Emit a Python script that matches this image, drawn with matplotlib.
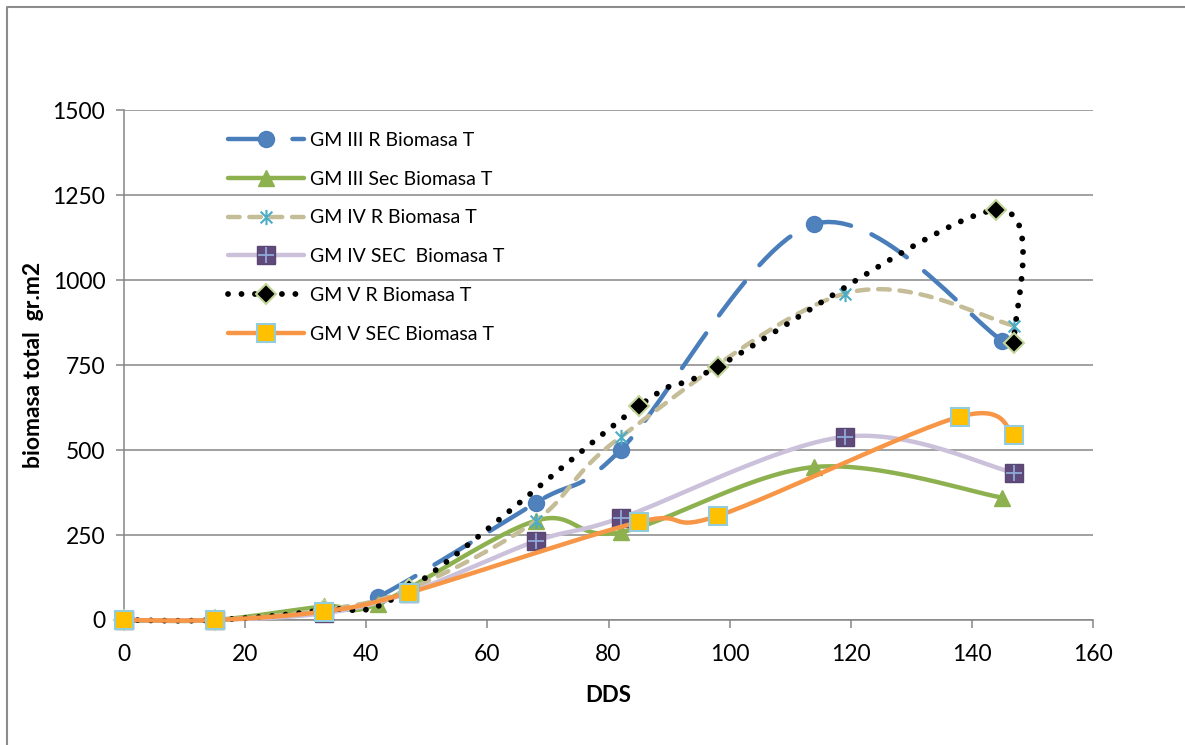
import matplotlib
matplotlib.use("Agg")
import matplotlib.pyplot as plt
import numpy as np
from matplotlib.lines import Line2D
from matplotlib.path import Path

plt.rcParams["font.family"] = ["Lato", "DejaVu Sans"]

# días después de siembra (DDS) y biomasa total (gr.m2) por grupo de madurez
dds_gm3 = [0, 15, 33, 42, 68, 82, 114, 145]
gm3_r = [0, 0, 25, 68, 345, 500, 1165, 822]
gm3_sec = [0, 0, 40, 48, 292, 258, 450, 360]

dds_gm4 = [0, 15, 33, 47, 68, 82, 119, 147]
gm4_r = [0, 0, 30, 90, 292, 538, 960, 866]
gm4_sec = [0, 0, 20, 80, 232, 300, 539, 433]

dds_gm5_r = [0, 15, 33, 47, 85, 98, 144, 147]
gm5_r = [0, 0, 30, 90, 629, 745, 1206, 814]
dds_gm5_sec = [0, 15, 33, 47, 85, 98, 138, 147]
gm5_sec = [0, 0, 25, 80, 288, 306, 598, 543]

labels = ["GM III R Biomasa T", "GM III Sec Biomasa T", "GM IV R Biomasa T",
          "GM IV SEC  Biomasa T", "GM V R Biomasa T", "GM V SEC Biomasa T"]

XMAX, YMAX = 160, 1500
AX_W, AX_H = 969.0, 510.0   # tamaño del área de trazado en píxeles


def smooth(xs, ys, n=30):
    """Curva suavizada tipo Excel (Bezier Catmull-Rom en coordenadas de pantalla)."""
    p = np.column_stack([np.asarray(xs, float) / XMAX * AX_W,
                         np.asarray(ys, float) / YMAX * AX_H])
    out = [p[0]]
    m = len(p)
    t = np.linspace(0, 1, n)[1:, None]
    for i in range(m - 1):
        p0 = p[max(i - 1, 0)]
        p1, p2 = p[i], p[i + 1]
        p3 = p[min(i + 2, m - 1)]
        c1 = p1 + (p2 - p0) / 6
        c2 = p2 - (p3 - p1) / 6
        seg = ((1 - t) ** 3 * p1 + 3 * (1 - t) ** 2 * t * c1
               + 3 * (1 - t) * t ** 2 * c2 + t ** 3 * p2)
        out.extend(seg)
    out = np.array(out)
    return out[:, 0] / AX_W * XMAX, out[:, 1] / AX_H * YMAX


# marcador asterisco (x con barra vertical)
asterisk = Path([(-1, -1), (1, 1), (-1, 1), (1, -1), (0, -1.3), (0, 1.3)],
                [Path.MOVETO, Path.LINETO, Path.MOVETO, Path.LINETO, Path.MOVETO, Path.LINETO])

fig = plt.figure(figsize=(11.85, 7.45), dpi=100)
ax = fig.add_axes([124 / 1185, 1 - 620 / 745, AX_W / 1185, AX_H / 745])

grid_c = "#868686"
lw = 3.2

# GM III R
sx, sy = smooth(dds_gm3, gm3_r)
ax.plot(sx, sy, color="#4A7EBB", lw=lw, dashes=(9.5, 5.0), dash_capstyle="round", zorder=3)
ax.plot(dds_gm3, gm3_r, ls="none", marker="o", ms=11.5, mfc="#4F81BD", mec="#4A7EBB", mew=1, zorder=3)
h1 = Line2D([], [], color="#4A7EBB", lw=lw, dashes=(9.5, 5.0), dash_capstyle="round",
            marker="o", ms=11.5, mfc="#4F81BD", mec="#4A7EBB")

# GM III Sec
sx, sy = smooth(dds_gm3, gm3_sec)
ax.plot(sx, sy, color="#8EB14F", lw=lw, solid_capstyle="round", zorder=3)
ax.plot(dds_gm3, gm3_sec, ls="none", marker="^", ms=12, mfc="#8EB14F", mec="#8EB14F", zorder=3)
h2 = Line2D([], [], color="#8EB14F", lw=lw, solid_capstyle="round",
            marker="^", ms=12, mfc="#8EB14F", mec="#8EB14F")

# GM IV R
sx, sy = smooth(dds_gm4, gm4_r)
ax.plot(sx, sy, color="#C4BD97", lw=lw, dashes=(2.6, 2.2), dash_capstyle="round", zorder=3)
ax.plot(dds_gm4, gm4_r, ls="none", marker=asterisk, ms=11, mfc="none", mec="#4BACC6", mew=1.5, zorder=3)
h3 = Line2D([], [], color="#C4BD97", lw=lw, dashes=(2.6, 2.2), dash_capstyle="round",
            marker=asterisk, ms=11, mfc="none", mec="#4BACC6", mew=1.5)

# GM IV SEC
sx, sy = smooth(dds_gm4, gm4_sec)
ax.plot(sx, sy, color="#CCC1DA", lw=lw, solid_capstyle="round", zorder=3)
ax.plot(dds_gm4, gm4_sec, ls="none", marker="s", ms=12.5, mfc="#604A7B", mec="#5A4672", mew=1, zorder=3)
ax.plot(dds_gm4, gm4_sec, ls="none", marker="+", ms=11, mec="#8EA9D8", mew=1.3, zorder=3)
h4a = Line2D([], [], color="#CCC1DA", lw=lw, solid_capstyle="round",
             marker="s", ms=12.5, mfc="#604A7B", mec="#5A4672")
h4b = Line2D([], [], ls="none", marker="+", ms=11, mec="#8EA9D8", mew=1.3)

# GM V R
sx, sy = smooth(dds_gm5_r, gm5_r)
ax.plot(sx, sy, color="black", lw=4.2, dashes=(0.01, 2.3), dash_capstyle="round", zorder=3)
ax.plot(dds_gm5_r, gm5_r, ls="none", marker="D", ms=10, mfc="black", mec="#C3D69B", mew=1.5, zorder=3)
h5 = Line2D([], [], color="black", lw=4.2, dashes=(0.01, 2.3), dash_capstyle="round",
            marker="D", ms=10, mfc="black", mec="#C3D69B", mew=1.5)

# GM V SEC
sx, sy = smooth(dds_gm5_sec, gm5_sec)
ax.plot(sx, sy, color="#F79646", lw=lw, solid_capstyle="round", zorder=3)
ax.plot(dds_gm5_sec, gm5_sec, ls="none", marker="s", ms=13, mfc="#FFC000", mec="#93CDDD", mew=1.5, zorder=3)
h6 = Line2D([], [], color="#F79646", lw=lw, solid_capstyle="round",
            marker="s", ms=13, mfc="#FFC000", mec="#93CDDD", mew=1.5)

ax.set_xlim(0, XMAX)
ax.set_ylim(0, YMAX)
ax.set_xticks(np.arange(0, 161, 20))
ax.set_yticks(np.arange(0, 1501, 250))
ax.grid(axis="y", color=grid_c, lw=1.1)
ax.set_axisbelow(True)
for side in ("top", "right"):
    ax.spines[side].set_visible(False)
for side in ("left", "bottom"):
    ax.spines[side].set_color(grid_c)
    ax.spines[side].set_linewidth(1.1)
ax.tick_params(axis="both", colors=grid_c, length=5.5, width=1.1, labelcolor="black", labelsize=16.5)
ax.tick_params(axis="x", pad=12)
ax.tick_params(axis="y", pad=8)
for ln in ax.lines:
    ln.set_clip_on(False)

ax.set_xlabel("DDS", fontsize=16, fontweight="bold", labelpad=14)
ax.set_ylabel("biomasa total  gr.m2", fontsize=16.5, fontweight="bold", labelpad=6)

ax.legend([h1, h2, h3, (h4a, h4b), h5, h6], labels, loc="upper left",
          bbox_to_anchor=(96 / AX_W, 1 - 14 / AX_H), frameon=False, fontsize=14,
          handlelength=3.9, handletextpad=0.35, labelspacing=1.12, borderaxespad=0)

# borde del área del gráfico
fig.add_artist(Line2D([7 / 1185, 7 / 1185, 1], [0, 1 - 7 / 745, 1 - 7 / 745],
                      color="#8C8C8C", lw=1.5, transform=fig.transFigure))

fig.savefig("out.png", dpi=100, facecolor="white")
